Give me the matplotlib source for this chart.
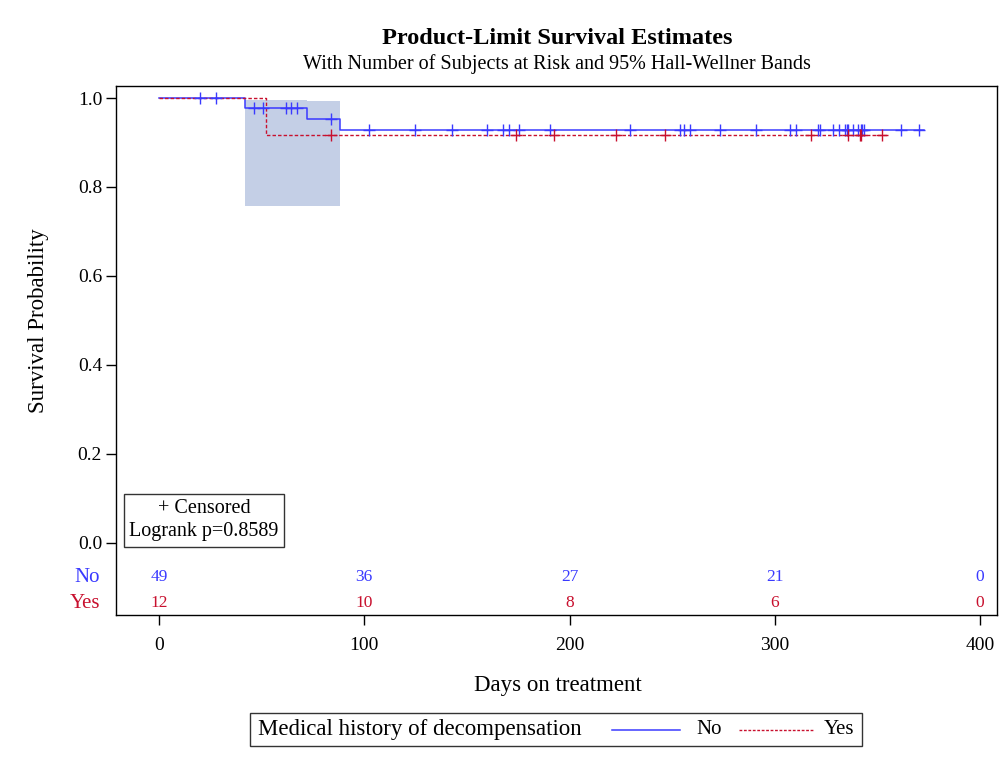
import matplotlib
matplotlib.use("Agg")
import matplotlib.pyplot as plt
from matplotlib.lines import Line2D
from matplotlib.patches import Rectangle
from matplotlib.transforms import blended_transform_factory

plt.rcParams['font.family'] = ['Liberation Serif', 'DejaVu Serif']

# Kaplan-Meier step curves (event times and survival after each step)
no_times = [0, 42, 72, 88, 372.6]
no_surv = [1.0, 0.977, 0.953, 0.927, 0.927]
yes_times = [0, 52, 354.4]
yes_surv = [1.0, 0.916, 0.916]

# Hall-Wellner band
band_times = [42, 72, 88]
band_upper = [0.995, 0.993, 0.993]
band_lower = [0.757, 0.757, 0.757]

# Censored observations
no_cens_t = [20, 27.8, 46.4, 50.5, 61.7, 64.3, 67.2, 83.8, 102.3, 124.7, 142.6,
             159.6, 167.7, 170.5, 175.5, 190.4, 229.4, 253.8, 255.7, 258.6,
             273.3, 290.6, 307.4, 310.3, 321.2, 322.0, 328.4, 331.4, 334.2,
             335.0, 335.8, 338.2, 340.4, 341.8, 342.6, 343.6, 361.2, 370.3]
yes_cens_t = [83.8, 173.7, 192.5, 222.6, 246.5, 317.4, 335.4, 341.4, 342.2, 352.3]

# Number at risk
risk_times = [0, 100, 200, 300, 400]
risk_no = [49, 36, 27, 21, 0]
risk_yes = [12, 10, 8, 6, 0]

group_labels = ['No', 'Yes']
blue = '#3a3aff'
red = '#c8102e'


def surv_at(t, times, surv):
    s = surv[0]
    for ti, si in zip(times, surv):
        if t >= ti:
            s = si
    return s


def fx(px):
    return px / 1003


def fy(py):
    return 1 - py / 760


fig = plt.figure(figsize=(10.03, 7.6), dpi=100)
ax = fig.add_axes([fx(116), fy(615), (997 - 116) / 1003, (615 - 86) / 760])

ax.fill_between(band_times, band_lower, band_upper, step='post',
                color='#c4cfe6', linewidth=0, zorder=1)

ax.step(no_times, no_surv, where='post', color=blue, lw=1.1, zorder=3)
ax.step(yes_times, yes_surv, where='post', color=red, lw=1.0,
        linestyle=(0, (2.5, 1.5)), zorder=3)

ax.plot(no_cens_t, [surv_at(t, no_times, no_surv) for t in no_cens_t],
        linestyle='none', marker='+', color=blue, markersize=9, mew=1.0, zorder=4)
ax.plot(yes_cens_t, [surv_at(t, yes_times, yes_surv) for t in yes_cens_t],
        linestyle='none', marker='+', color=red, markersize=9, mew=1.0, zorder=4)

ax.set_xlim(-20.9, 408.2)
ax.set_ylim(-0.162, 1.027)
ax.set_xticks(risk_times)
ax.set_yticks([0.0, 0.2, 0.4, 0.6, 0.8, 1.0])
ax.set_yticklabels([f'{v:.1f}' for v in [0.0, 0.2, 0.4, 0.6, 0.8, 1.0]])
ax.tick_params(labelsize=14, length=7, width=1, direction='out')
ax.tick_params(axis='x', pad=9)
ax.tick_params(axis='y', pad=3)
for sp in ax.spines.values():
    sp.set_linewidth(1.0)

# At-risk table inside the frame
for t, n in zip(risk_times, risk_no):
    ax.text(t, -0.077, str(n), color=blue, ha='center', va='center', fontsize=12.5)
for t, n in zip(risk_times, risk_yes):
    ax.text(t, -0.136, str(n), color=red, ha='center', va='center', fontsize=12.5)
trans = blended_transform_factory(fig.transFigure, ax.transData)
ax.text(fx(100), -0.077, group_labels[0], color=blue, ha='right', va='center',
        fontsize=15, transform=trans)
ax.text(fx(100), -0.136, group_labels[1], color=red, ha='right', va='center',
        fontsize=15, transform=trans)

fig.text(fx(39), fy(321), 'Survival Probability', rotation=90,
         ha='center', va='center', fontsize=16.5)
fig.text(fx(558), fy(686), 'Days on treatment', ha='center', va='center', fontsize=16.5)

# Censored / logrank inset
inset_x = (204 - 116) / 881
ax.text(inset_x, 0.139, '+ Censored\nLogrank p=0.8589', transform=ax.transAxes,
        ha='center', va='bottom', fontsize=14.5, linespacing=1.3,
        multialignment='center',
        bbox=dict(boxstyle='square,pad=0.25', fc='white', ec='#333333', lw=1))

fig.text(fx(557), fy(38), 'Product-Limit Survival Estimates',
         ha='center', va='center', fontsize=17.5, fontweight='bold')
fig.text(fx(557), fy(64),
         'With Number of Subjects at Risk and 95% Hall-Wellner Bands',
         ha='center', va='center', fontsize=14.5)

# Legend box at the bottom
fig.patches.append(Rectangle((fx(250), fy(746)), (862 - 250) / 1003, 33 / 760,
                             transform=fig.transFigure, fill=False, ec='#333333', lw=1))
fig.text(fx(258), fy(730), 'Medical history of decompensation',
         ha='left', va='center', fontsize=16.5)
fig.lines.append(Line2D([fx(612), fx(680)], [fy(730)] * 2,
                        transform=fig.transFigure, color=blue, lw=1.1))
fig.text(fx(696), fy(730), group_labels[0], ha='left', va='center', fontsize=15)
fig.lines.append(Line2D([fx(739), fx(813)], [fy(730)] * 2,
                        transform=fig.transFigure, color=red, lw=1.0,
                        linestyle=(0, (2.0, 1.2))))
fig.text(fx(824), fy(730), group_labels[1], ha='left', va='center', fontsize=15)

fig.savefig('out.png', dpi=100)
